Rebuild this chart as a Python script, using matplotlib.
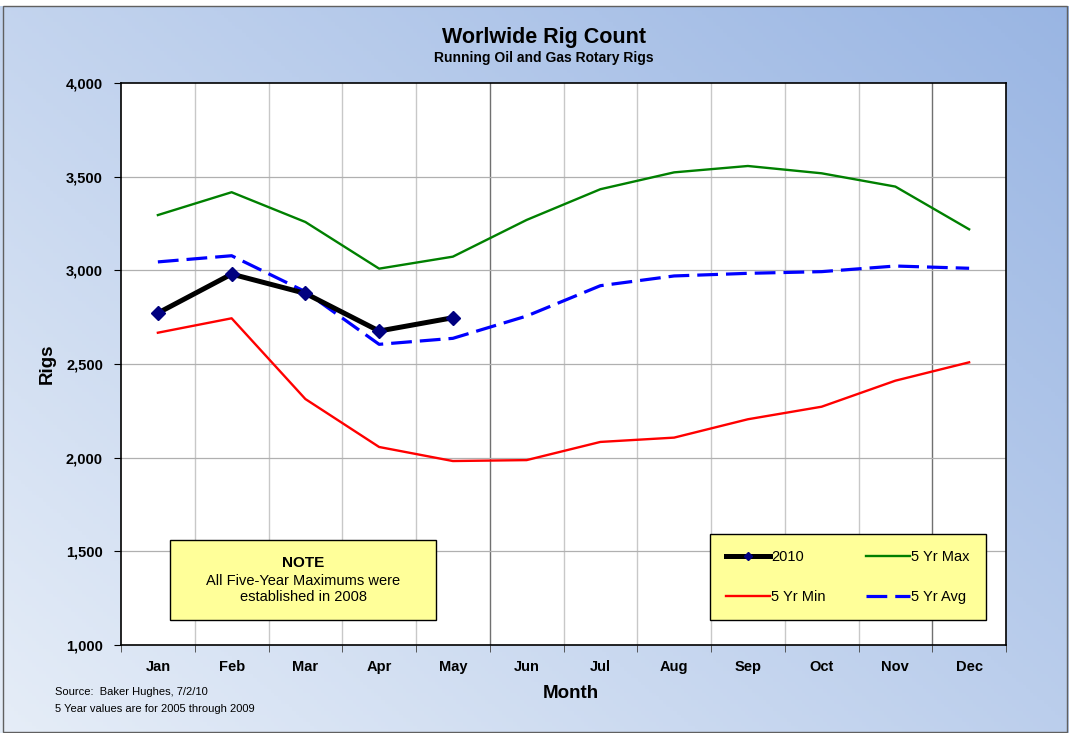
import numpy as np
import matplotlib
matplotlib.use("Agg")
import matplotlib.pyplot as plt
import matplotlib.patches as patches
from matplotlib.ticker import FuncFormatter, FixedLocator

# data
months = ['Jan', 'Feb', 'Mar', 'Apr', 'May', 'Jun', 'Jul', 'Aug', 'Sep', 'Oct', 'Nov', 'Dec']
rigs_2010 = [2772, 2980, 2877, 2676, 2747]
max_5yr = [3295, 3417, 3258, 3009, 3073, 3269, 3433, 3523, 3557, 3518, 3447, 3219]
min_5yr = [2667, 2744, 2313, 2057, 1982, 1987, 2084, 2107, 2205, 2272, 2411, 2509]
avg_5yr = [3045, 3078, 2886, 2605, 2637, 2756, 2918, 2970, 2984, 2993, 3023, 3011]
yticks = [1000, 1500, 2000, 2500, 3000, 3500, 4000]

arial = ['Liberation Sans', 'DejaVu Sans']
plt.rcParams['font.family'] = arial

fig = plt.figure(figsize=(10.69, 7.33), dpi=100)

# gradient background
bg = fig.add_axes([0, 0, 1, 1], zorder=-10)
gx, gy = np.meshgrid(np.linspace(0, 1, 300), np.linspace(0, 1, 200))
t = np.clip(0.55 * gx + 0.45 * gy, 0, 1)[..., None]
c_light = np.array([0.90, 0.93, 0.97])
c_dark = np.array([0.60, 0.71, 0.89])
img = c_light * (1 - t) + c_dark * t
bg.imshow(img, extent=[0, 1, 0, 1], origin='lower', aspect='auto')
bg.add_patch(patches.Rectangle((0, 0.992), 1, 0.01, facecolor='white', edgecolor='none'))
bg.add_patch(patches.Rectangle((0.0025, 0.002), 0.9955, 0.990, fill=False,
                               edgecolor='#606060', lw=1.0))
bg.set_xlim(0, 1)
bg.set_ylim(0, 1)
bg.axis('off')

ax = fig.add_axes([121 / 1069, 1 - 645 / 733, 885 / 1069, 562 / 733])
ax.set_facecolor('white')
x = np.arange(len(months))

ax.plot(x, max_5yr, color='#008000', lw=1.7, label='5 Yr Max', zorder=3)
ax.plot(x, min_5yr, color='#FF0000', lw=1.7, label='5 Yr Min', zorder=3)
ax.plot(x, avg_5yr, color='#0000FF', lw=2.3, ls=(0, (6.5, 2.5)), label='5 Yr Avg', zorder=3)
ax.plot(x[:len(rigs_2010)], rigs_2010, color='black', lw=3.6, marker='D',
        markersize=7, markerfacecolor='#000080', markeredgecolor='#000080',
        label='2010', zorder=4)

ax.set_xlim(-0.5, 11.5)
ax.set_ylim(1000, 4000)

# vertical grid at category boundaries
for k in range(1, 12):
    c = '#707070' if k in (5, 11) else '#C8C8C8'
    ax.axvline(k - 0.5, color=c, lw=1.0, zorder=1)
for v in yticks[1:-1]:
    ax.axhline(v, color='#B0B0B0', lw=0.9, zorder=1)

ax.set_xticks(x)
ax.set_xticklabels(months)
ax.xaxis.set_minor_locator(FixedLocator(np.arange(-0.5, 12, 1)))
ax.tick_params(axis='x', which='major', length=0, pad=11)
ax.tick_params(axis='x', which='minor', length=5, direction='out', color='#404040')
ax.set_yticks(yticks)
ax.yaxis.set_major_formatter(FuncFormatter(lambda v, p: f'{int(v):,}'))
ax.tick_params(axis='y', length=5, direction='out', pad=8)
for lab in ax.get_xticklabels() + ax.get_yticklabels():
    lab.set_fontweight('bold')
    lab.set_fontsize(10.5)

for s in ax.spines.values():
    s.set_color('black')
    s.set_linewidth(1.2)

fig.text(47 / 1069, 1 - 364 / 733, 'Rigs', fontweight='bold', fontsize=13.5,
         rotation=90, ha='center', va='center')
fig.text(571 / 1069, 1 - 694 / 733, 'Month', fontweight='bold',
         fontsize=13.5, ha='center', va='center')

fig.text(544 / 1069, 1 - 38 / 733, 'Worlwide Rig Count',
         fontweight='bold', fontsize=15.5, ha='center', va='center')
fig.text(544 / 1069, 1 - 58 / 733, 'Running Oil and Gas Rotary Rigs',
         fontweight='bold', fontsize=10, ha='center', va='center')

fig.text(55 / 1069, 1 - 692 / 733, 'Source:  Baker Hughes, 7/2/10',
         fontsize=8, ha='left', va='center')
fig.text(55 / 1069, 1 - 709 / 733, '5 Year values are for 2005 through 2009',
         fontsize=8, ha='left', va='center')

# note box
nx0, nx1 = (170 - 121) / 885, (436 - 121) / 885
ny0, ny1 = (645 - 620) / 562, (645 - 540) / 562
ax.add_patch(patches.Rectangle((nx0, ny0), nx1 - nx0, ny1 - ny0, transform=ax.transAxes,
                               facecolor='#FFFF99', edgecolor='black', lw=1.0, zorder=5))
ax.text((nx0 + nx1) / 2, (645 - 563) / 562, 'NOTE', transform=ax.transAxes,
        fontweight='bold', fontsize=11, ha='center', va='center', zorder=6)
ax.text((nx0 + nx1) / 2, (645 - 589) / 562,
        'All Five-Year Maximums were\nestablished in 2008', transform=ax.transAxes,
        fontsize=10.5, ha='center', va='center', linespacing=1.15, zorder=6)

# legend
h, l = ax.get_legend_handles_labels()
order = [3, 1, 0, 2]
leg = ax.legend([h[i] for i in order], [l[i] for i in order], ncol=2,
                loc='lower left', bbox_to_anchor=((710 - 121) / 885, (645 - 620) / 562,
                                                  276 / 885, 82 / 562),
                mode='expand', borderaxespad=0, handlelength=3.0, handletextpad=0.1,
                borderpad=1.1, labelspacing=1.8, columnspacing=1.5, fancybox=False,
                framealpha=1, markerscale=0.6, prop={'size': 10.5})
leg.get_frame().set_facecolor('#FFFF99')
leg.get_frame().set_edgecolor('black')
leg.get_frame().set_linewidth(1.0)
leg.set_zorder(6)

fig.savefig('out.png', dpi=100)
